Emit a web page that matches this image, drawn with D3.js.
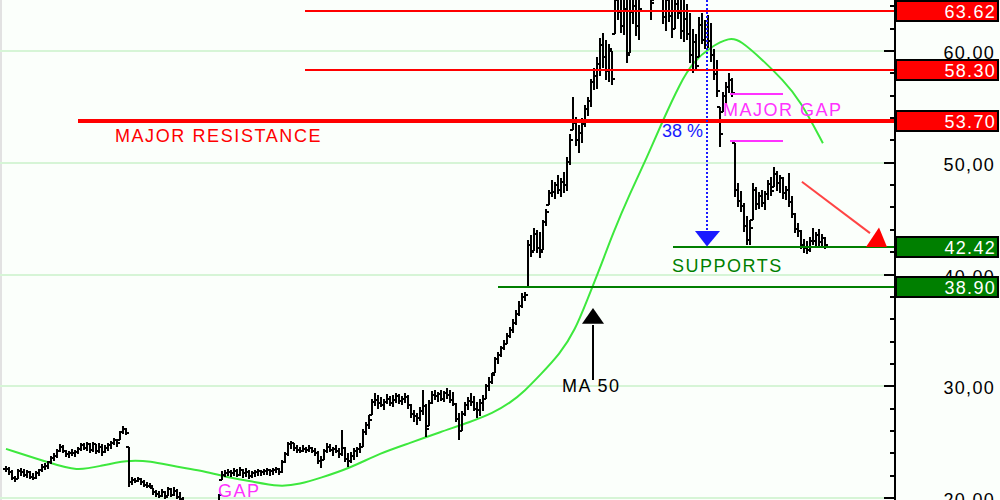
<!DOCTYPE html>
<html><head><meta charset="utf-8">
<script src="https://cdn.jsdelivr.net/npm/d3@7"></script>
<style>
html,body{margin:0;padding:0;background:#fbfffb;}
svg{display:block;}
text{font-family:"Liberation Sans",Arial,sans-serif;}
</style></head>
<body><svg id="c" width="1000" height="500"></svg>
<script>
// ---- price bars (high / low / close), one per trading day ----
const high = [22.9,22.8,22.5,22.0,22.6,22.7,22.6,22.5,22.4,22.2,
22.4,22.6,23.0,23.1,23.3,23.8,24.0,24.4,24.8,24.7,
24.3,24.2,24.4,24.3,24.6,24.9,24.9,25.0,24.9,25.0,
24.8,24.9,24.8,24.7,24.9,25.1,25.4,25.3,26.0,26.4,
26.3,24.6,21.9,21.8,21.9,21.8,21.6,21.4,21.3,20.9,
20.7,20.6,20.8,20.6,21.0,20.9,21.0,20.8,20.5,20.1,
19.6,19.4,19.3,19.4,19.3,19.2,19.3,19.4,19.5,19.6,
19.7,20.4,22.4,22.5,22.6,22.5,22.7,22.6,22.8,22.6,
22.7,22.5,22.4,22.5,22.6,22.5,22.6,22.7,22.6,22.7,
22.8,22.7,23.4,24.1,25.0,25.1,24.9,24.7,24.6,24.7,
24.6,24.7,24.6,24.5,24.2,23.8,24.4,24.9,24.8,24.6,
24.7,24.5,26.1,24.6,24.0,24.1,24.5,24.6,24.9,26.2,
26.8,27.4,28.9,29.4,29.2,29.0,28.9,29.3,29.1,29.2,
29.4,29.3,29.1,29.4,29.2,28.4,27.9,27.6,28.1,29.7,
28.4,28.8,29.6,29.7,29.5,29.7,29.6,29.8,29.7,29.5,
28.5,27.6,27.8,28.6,29.0,29.4,29.1,28.6,28.9,29.2,
30.2,30.8,31.2,32.6,33.1,33.6,34.1,34.8,35.3,36.0,
36.8,37.6,38.3,38.4,43.1,43.5,44.2,44.0,43.8,44.9,
45.9,47.6,48.5,48.3,48.9,48.6,49.2,50.5,52.6,55.9,
54.1,53.4,54.0,55.2,55.9,57.5,58.5,59.5,61.2,61.6,
61.0,60.6,60.0,65.0,65.5,65.2,64.8,65.6,64.9,66.0,
65.8,65.2,66.2,66.8,66.5,66.0,66.3,67.0,66.6,66.0,
65.5,65.8,65.2,65.0,65.6,65.0,64.6,64.2,63.4,62.0,
61.5,63.0,63.4,62.8,63.2,62.5,60.2,59.2,55.0,56.3,
57.2,58.0,57.6,51.8,48.2,47.5,46.4,45.2,44.9,48.2,
47.8,47.4,47.6,47.5,48.5,48.7,49.6,49.3,48.9,48.7,
47.9,49.1,47.0,45.5,44.6,44.0,43.2,43.0,43.4,44.2,
43.8,44.1,43.6,43.4];
const low = [22.3,22.1,21.6,21.4,21.7,22.0,21.9,21.8,21.7,21.6,
21.7,22.0,22.3,22.5,22.6,23.0,23.3,23.6,24.1,24.0,
23.7,23.6,23.8,23.7,23.9,24.2,24.3,24.2,24.0,24.1,
23.9,24.0,23.8,24.0,24.2,24.4,24.7,24.6,25.2,25.7,
25.6,21.0,21.2,21.3,21.4,21.2,21.0,20.9,20.9,20.3,
20.1,20.0,20.1,19.9,20.2,20.1,20.2,19.9,19.7,19.5,
19.0,18.8,18.7,18.8,18.6,18.5,18.6,18.7,18.8,18.9,
19.0,19.6,21.6,21.9,22.0,21.9,22.0,21.9,22.0,21.8,
21.9,21.7,21.8,21.9,22.0,22.0,22.1,22.1,22.0,22.1,
22.2,22.1,22.2,23.1,23.8,24.4,24.2,24.0,24.0,24.1,
24.0,24.1,24.0,23.8,23.0,22.7,23.4,24.0,24.1,23.8,
24.0,23.6,23.8,23.2,22.8,23.1,23.4,23.7,24.0,24.6,
25.6,26.2,27.4,28.2,28.0,28.1,27.9,28.4,28.2,28.1,
28.5,28.4,28.3,28.5,28.0,27.2,26.8,26.5,26.9,27.4,
25.5,26.4,28.4,28.8,28.6,28.7,28.6,28.9,28.5,28.2,
26.8,25.2,26.0,27.3,27.9,28.2,27.8,27.2,27.3,27.8,
28.9,29.6,30.2,31.2,32.0,32.6,33.2,33.8,34.3,34.8,
35.5,36.3,37.0,37.6,38.9,41.6,42.1,41.9,41.5,42.2,
44.3,46.2,46.9,46.8,47.2,46.9,47.3,47.5,49.8,52.9,
51.5,50.9,51.8,53.2,54.2,55.0,56.5,56.6,57.8,58.5,
57.4,57.2,57.0,61.5,62.8,61.6,61.4,58.9,59.8,62.4,
61.3,61.0,64.8,65.0,64.9,62.8,64.6,65.0,64.7,62.4,
61.8,62.6,61.2,62.0,62.9,61.1,60.8,61.0,58.9,58.0,
58.2,59.5,60.6,60.2,60.3,59.0,57.4,55.9,51.4,54.5,
55.3,56.2,55.9,46.9,46.0,45.6,43.8,42.6,42.6,44.9,
45.8,45.9,46.0,45.8,46.7,47.0,47.8,47.5,47.3,46.8,
46.7,46.0,45.1,43.7,43.4,42.3,41.9,41.8,42.0,42.6,
42.4,42.5,42.4,42.3];
const close = [22.6,22.3,21.8,21.7,22.4,22.3,22.1,22.3,21.9,21.8,
22.2,22.5,22.8,22.9,23.2,23.6,23.8,24.2,24.6,24.2,
23.9,24.0,24.0,24.1,24.4,24.7,24.5,24.8,24.3,24.8,
24.2,24.6,24.1,24.5,24.7,24.9,25.2,24.9,25.9,26.2,
25.8,21.4,21.6,21.5,21.7,21.4,21.2,21.1,21.1,20.5,
20.4,20.2,20.5,20.1,20.8,20.3,20.6,20.1,19.9,19.7,
19.2,19.0,19.1,19.0,18.9,18.8,19.0,19.1,19.2,19.3,
19.5,20.3,22.1,22.2,22.3,22.2,22.4,22.1,22.5,22.2,
22.3,22.0,22.2,22.3,22.4,22.3,22.4,22.5,22.4,22.5,
22.6,22.3,23.2,23.9,24.8,24.9,24.5,24.3,24.2,24.4,
24.3,24.5,24.2,24.0,23.3,23.4,24.2,24.6,24.3,24.4,
24.2,23.9,24.5,23.5,23.3,23.8,24.2,24.4,24.6,25.9,
26.5,27.0,28.6,28.8,28.5,28.3,28.6,28.9,28.5,28.8,
29.1,28.7,28.9,29.0,28.3,27.5,27.3,27.2,27.8,28.2,
26.2,28.5,29.2,29.1,29.3,28.9,29.4,29.2,28.8,28.4,
27.1,26.0,27.5,28.3,28.7,28.6,28.0,27.9,28.5,28.9,
30.0,30.4,31.0,32.4,32.8,33.4,33.8,34.5,35.0,35.7,
36.5,37.2,38.0,38.2,42.6,42.0,43.6,42.4,42.0,44.7,
45.6,47.3,47.4,48.0,47.6,48.3,48.0,50.1,52.0,53.6,
52.0,52.7,53.5,54.8,55.5,57.2,57.8,58.8,60.5,59.5,
58.2,60.2,57.5,64.6,63.5,62.2,63.8,59.6,63.5,64.0,
62.2,63.8,65.7,66.0,65.2,64.3,65.9,66.4,65.0,63.0,
64.6,63.1,62.0,64.2,63.4,61.8,62.9,61.5,59.6,60.8,
58.7,62.3,61.0,62.0,60.9,59.6,57.9,56.4,52.6,56.0,
56.8,57.4,56.2,47.6,46.6,46.1,44.3,43.1,44.2,47.6,
46.3,47.0,46.4,47.2,48.1,47.5,49.0,48.2,48.6,47.3,
47.6,46.5,45.4,44.1,43.9,42.6,42.4,42.2,43.0,43.0,
43.5,42.9,43.3,42.6];

// ---- 50-day moving average, sampled at bar positions ----
const maBar   = [0,14.7,23.7,31.3,40.3,48,57,64.7,73,81.3,91.3,98,104.7,114.7,124.7,134.7,144.7,154.7,162.3,168,173,178,184.7,189.7,193.7,198,202.3,208,213.7,218.7,224.7,229,234.7,241.3,244.7,252.3,259,264.7,272.3];
const maValue = [24.40,23.13,22.41,22.86,23.40,23.31,22.77,22.50,21.88,21.52,20.98,21.25,21.79,22.68,24.02,24.92,25.90,26.80,27.60,28.50,29.60,31.00,32.90,35.03,37.71,40.57,43.70,47.28,50.50,53.63,57.12,59.00,60.34,61.23,60.97,59.18,57.39,55.60,51.75];

// ---- axis ticks ----
const majorTicks = [20,30,40,50,60];
const tickLabels = ["20,00","30,00","40,00","50,00","60,00"];

// ---- key levels ----
const levelValues = [63.62,58.30,53.70,42.42,38.90];
const levelLabels = ["63.62","58.30","53.70","42.42","38.90"];
const levelStartBar = [99.7,99.7,24,222.3,164];
const levelKind = ["res","res","res","sup","sup"];
const levelThick = [2,2,4,2,2];

const W = 1000, H = 500;
const svg = d3.select("#c");
const x = d3.scaleLinear().domain([0, high.length - 1]).range([6, 825]);
const y = d3.scaleLinear().domain([20, 60]).range([498, 51]);
const axisX = 895;
const RED = "#ff0000", GREEN = "#007f00", MAG = "#ff33ff", BLUE = "#1a1aff";

// background + left frame
svg.append("rect").attr("width", W).attr("height", H).attr("fill", "#fbfffb");
svg.append("rect").attr("x", 0).attr("y", 0).attr("width", 2).attr("height", H).attr("fill", "#e2e2e2");

// gridlines
svg.append("g").selectAll("line").data(majorTicks).join("line")
  .attr("x1", 0).attr("x2", axisX).attr("y1", d => Math.round(y(d))).attr("y2", d => Math.round(y(d)))
  .attr("stroke", "#d6f5d6").attr("stroke-width", 2).attr("shape-rendering", "crispEdges");

// MA 50
const maData = maBar.map((b, i) => [b, maValue[i]]);
svg.append("path").datum(maData)
  .attr("d", d3.line().x(d => x(d[0])).y(d => y(d[1])).curve(d3.curveBasis))
  .attr("fill", "none").attr("stroke", "#3de83d").attr("stroke-width", 2);

// price bars
const bars = svg.append("g").attr("stroke", "#000").attr("shape-rendering", "crispEdges");
high.forEach((h, i) => {
  const xi = Math.round(x(i));
  const lo = low[i];
  const prev = i > 0 ? close[i - 1] : close[0];
  const open = Math.max(lo, Math.min(h, prev));
  bars.append("line").attr("x1", xi).attr("x2", xi).attr("y1", y(h)).attr("y2", y(lo)).attr("stroke-width", 2);
  bars.append("line").attr("x1", xi - 3).attr("x2", xi).attr("y1", Math.round(y(open))).attr("y2", Math.round(y(open))).attr("stroke-width", 2);
  bars.append("line").attr("x1", xi).attr("x2", xi + 3).attr("y1", Math.round(y(close[i]))).attr("y2", Math.round(y(close[i]))).attr("stroke-width", 2);
});

// level lines
levelValues.forEach((v, i) => {
  svg.append("line")
    .attr("x1", x(levelStartBar[i])).attr("x2", axisX)
    .attr("y1", y(v)).attr("y2", y(v))
    .attr("stroke", levelKind[i] === "res" ? RED : GREEN)
    .attr("stroke-width", levelThick[i]).attr("shape-rendering", "crispEdges");
});

// axis line and ticks
svg.append("line").attr("x1", axisX).attr("x2", axisX).attr("y1", 0).attr("y2", H)
  .attr("stroke", "#000").attr("stroke-width", 2).attr("shape-rendering", "crispEdges");
const minor = d3.range(20, 66, 2);
svg.append("g").selectAll("line").data(minor).join("line")
  .attr("x1", d => majorTicks.includes(d) ? axisX - 11 : axisX - 5).attr("x2", axisX)
  .attr("y1", d => Math.round(y(d))).attr("y2", d => Math.round(y(d)))
  .attr("stroke", "#000").attr("stroke-width", 2).attr("shape-rendering", "crispEdges");

// tick labels
svg.append("g").selectAll("text").data(majorTicks).join("text")
  .attr("x", 995).attr("y", d => y(d) + 8)
  .attr("text-anchor", "end").attr("font-size", 18).attr("letter-spacing", 1.3)
  .attr("fill", "#000").text((d, i) => tickLabels[i]);

// value boxes
levelValues.forEach((v, i) => {
  const g = svg.append("g");
  g.append("rect").attr("x", axisX + 1).attr("y", Math.round(y(v)) - 10).attr("width", 102).attr("height", 20)
    .attr("fill", levelKind[i] === "res" ? RED : GREEN).attr("stroke", "#000").attr("stroke-width", 2)
    .attr("shape-rendering", "crispEdges");
  g.append("text").attr("x", 996).attr("y", Math.round(y(v)) + 7)
    .attr("text-anchor", "end").attr("font-size", 18).attr("letter-spacing", 1.3)
    .attr("fill", "#fff").text(levelLabels[i]);
});

// annotations
function label(t, bx, v, color, ls) {
  svg.append("text").attr("x", x(bx)).attr("y", y(v)).attr("font-size", 18)
    .attr("letter-spacing", ls).attr("fill", color).text(t);
}
label("MAJOR RESISTANCE", 36.3, 51.85, RED, 1.6);
label("SUPPORTS", 222, 40.2, GREEN, 1.5);
label("MAJOR GAP", 239, 54.17, MAG, 1.5);
label("GAP", 70.7, 20.1, MAG, 1.5);
label("38 %", 218.7, 52.3, BLUE, 0);
label("MA 50", 185.3, 29.5, "#000", 1.5);

// major gap brackets
[56.14, 51.93].forEach(v => {
  svg.append("line").attr("x1", x(241.3)).attr("x2", x(259)).attr("y1", y(v)).attr("y2", y(v))
    .attr("stroke", MAG).attr("stroke-width", 2).attr("shape-rendering", "crispEdges");
});

// 38% retracement dotted arrow
const rx = Math.round(x(233.7));
svg.append("line").attr("x1", rx).attr("x2", rx).attr("y1", 0).attr("y2", y(43.9))
  .attr("stroke", BLUE).attr("stroke-width", 2).attr("stroke-dasharray", "2,2").attr("shape-rendering", "crispEdges");
svg.append("path")
  .attr("d", `M${rx - 12},${y(43.9)}L${rx + 13},${y(43.9)}L${rx},${y(42.5)}Z`).attr("fill", BLUE);

// red trend arrow
const ax1 = x(265.3), ay1 = y(48.3), ax2 = 870, ay2 = y(43.7);
svg.append("line").attr("x1", ax1).attr("y1", ay1).attr("x2", ax2).attr("y2", ay2)
  .attr("stroke", "#ff4444").attr("stroke-width", 2);
svg.append("path").attr("d", `M866,${y(42.45)}L887,${y(42.45)}L879,${y(44.2)}Z`).attr("fill", RED);

// MA 50 arrow
const mx = Math.round(x(195.7));
svg.append("line").attr("x1", mx).attr("x2", mx).attr("y1", y(35.5)).attr("y2", y(30.6))
  .attr("stroke", "#000").attr("stroke-width", 2).attr("shape-rendering", "crispEdges");
svg.append("path").attr("d", `M${mx - 11},${y(35.6)}L${mx + 11},${y(35.6)}L${mx},${y(37.0)}Z`).attr("fill", "#000");
</script></body></html>
